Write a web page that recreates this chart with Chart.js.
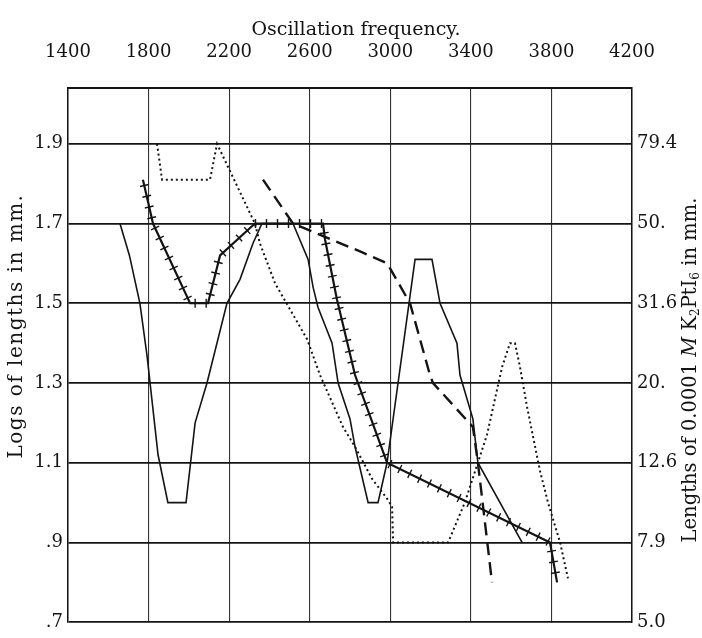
<!DOCTYPE html>
<html>
<head>
<meta charset="utf-8">
<script src="https://cdn.jsdelivr.net/npm/chart.js@4.4.1/dist/chart.umd.min.js"></script>
<style>
    html, body { margin: 0; padding: 0; background: #fff; }
    #wrap { width: 702px; height: 638px; }
</style>
</head>
<body>
<div id="wrap"><canvas id="chart" width="702" height="638"></canvas></div>
<script>
// === AXES ===
const FREQ_TICKS = [1400, 1800, 2200, 2600, 3000, 3400, 3800, 4200];
const LOG_TICKS = [0.7, 0.9, 1.1, 1.3, 1.5, 1.7, 1.9];
const LOG_LABELS = [".7", ".9", "1.1", "1.3", "1.5", "1.7", "1.9"];
const LENGTH_LABELS = ["5.0", "7.9", "12.6", "20.", "31.6", "50.", "79.4"];

// === SERIES ===
// thin solid curve
const solidFreq = [1658, 1705, 1757, 1792, 1847, 1896, 1986, 2031, 2090, 2189, 2254, 2318, 2363, 2517, 2592, 2617, 2641, 2711, 2741, 2800, 2825, 2890, 2939, 2984, 3123, 3207, 3247, 3331, 3346, 3410, 3435, 3654];
const solidLog  = [1.70, 1.62, 1.50, 1.37, 1.12, 1.00, 1.00, 1.20, 1.30, 1.50, 1.56, 1.65, 1.70, 1.70, 1.61, 1.54, 1.49, 1.40, 1.30, 1.21, 1.14, 1.00, 1.00, 1.10, 1.61, 1.61, 1.50, 1.40, 1.32, 1.21, 1.10, 0.90];

// solid curve with cross marks
const crossFreq = [1772, 1822, 2006, 2095, 2155, 2328, 2666, 2676, 2735, 2825, 2984, 3793, 3828];
const crossLog  = [1.81, 1.70, 1.50, 1.50, 1.62, 1.70, 1.70, 1.66, 1.51, 1.32, 1.10, 0.90, 0.80];

// long dashes
const dashFreq = [2368, 2517, 2850, 2985, 3098, 3197, 3212, 3410, 3435, 3505];
const dashLog  = [1.81, 1.70, 1.63, 1.60, 1.50, 1.32, 1.30, 1.19, 1.10, 0.80];

// dotted
const dotFreq = [1842, 1867, 2105, 2140, 2328, 2353, 2428, 2587, 2651, 2686, 2765, 2825, 2909, 2984, 3009, 3014, 3287, 3370, 3480, 3555, 3594, 3619, 3644, 3679, 3743, 3783, 3843, 3882];
const dotLog  = [1.90, 1.81, 1.81, 1.90, 1.70, 1.65, 1.55, 1.41, 1.32, 1.28, 1.19, 1.14, 1.06, 1.01, 0.99, 0.90, 0.90, 1.00, 1.17, 1.34, 1.40, 1.40, 1.34, 1.24, 1.08, 1.00, 0.90, 0.81];

const INK = "#141414";
const SERIF = "'DejaVu Serif', 'Liberation Serif', serif";

const toPoints = (xs, ys) => xs.map((x, i) => ({ x: x, y: ys[i] }));
const labelFor = (v, labels) => {
    const i = LOG_TICKS.findIndex((t) => Math.abs(t - v) < 1e-6);
    return i < 0 ? "" : labels[i];
};

// short cross strokes along the marked curve
const crossMarks = {
    id: "crossMarks",
    afterDatasetsDraw(chart) {
        const pts = chart.getDatasetMeta(1).data;
        const ctx = chart.ctx;
        const step = 11;
        let carry = 6;
        ctx.save();
        ctx.strokeStyle = INK;
        ctx.lineWidth = 1.4;
        for (let i = 1; i < pts.length; i++) {
            const a = pts[i - 1], b = pts[i];
            const dx = b.x - a.x, dy = b.y - a.y;
            const len = Math.hypot(dx, dy);
            if (len === 0) continue;
            const nx = -dy / len, ny = dx / len;
            let d = carry;
            while (d < len) {
                const px = a.x + dx * d / len, py = a.y + dy * d / len;
                ctx.beginPath();
                ctx.moveTo(px - nx * 4.5, py - ny * 4.5);
                ctx.lineTo(px + nx * 4.5, py + ny * 4.5);
                ctx.stroke();
                d += step;
            }
            carry = d - len;
        }
        ctx.restore();
    },
};

// axis titles (right one is rotated the other way and has subscripts)
const axisTitles = {
    id: "axisTitles",
    afterDraw(chart) {
        const ctx = chart.ctx;
        ctx.save();
        ctx.fillStyle = INK;
        ctx.textBaseline = "middle";

        ctx.font = `19px ${SERIF}`;
        ctx.textAlign = "center";
        ctx.fillText("Oscillation frequency.", 356, 30);

        ctx.save();
        ctx.translate(17, 326);
        ctx.rotate(-Math.PI / 2);
        ctx.font = `20px ${SERIF}`;
        ctx.letterSpacing = "1.5px";
        ctx.fillText("Logs of lengths in mm.", 0, 0);
        ctx.restore();

        // Lengths of 0.0001 M K2PtI6 in mm.
        const parts = [
            { t: "Lengths of 0.0001 ", f: `19.5px ${SERIF}`, dy: 0 },
            { t: "M", f: `italic 19.5px ${SERIF}`, dy: 0 },
            { t: " K", f: `19.5px ${SERIF}`, dy: 0 },
            { t: "2", f: `12px ${SERIF}`, dy: 5 },
            { t: "PtI", f: `19.5px ${SERIF}`, dy: 0 },
            { t: "6", f: `12px ${SERIF}`, dy: 5 },
            { t: " in mm.", f: `19.5px ${SERIF}`, dy: 0 },
        ];
        let total = 0;
        parts.forEach((p) => { ctx.font = p.f; p.w = ctx.measureText(p.t).width; total += p.w; });
        ctx.translate(691, 370);
        ctx.rotate(-Math.PI / 2);
        ctx.textAlign = "left";
        let x = -total / 2;
        parts.forEach((p) => { ctx.font = p.f; ctx.fillText(p.t, x, p.dy); x += p.w; });
        ctx.restore();
    },
};

const ctx = document.getElementById("chart").getContext("2d");

new Chart(ctx, {
    type: "line",
    data: {
        datasets: [
            { data: toPoints(solidFreq, solidLog), borderColor: INK, borderWidth: 1.6 },
            { data: toPoints(crossFreq, crossLog), borderColor: INK, borderWidth: 2.2 },
            { data: toPoints(dashFreq, dashLog), borderColor: INK, borderWidth: 2.4, borderDash: [13, 7] },
            { data: toPoints(dotFreq, dotLog), borderColor: INK, borderWidth: 2, borderDash: [2, 3] },
        ],
    },
    options: {
        responsive: false,
        animation: false,
        layout: { padding: { top: 0, bottom: 9, left: 0, right: 0 } },
        elements: {
            point: { radius: 0 },
            line: { tension: 0, fill: false, borderCapStyle: "butt", borderJoinStyle: "miter" },
        },
        plugins: { legend: { display: false }, tooltip: { enabled: false } },
        scales: {
            x: {
                type: "linear",
                position: "top",
                min: 1400,
                max: 4200,
                afterBuildTicks: (s) => { s.ticks = FREQ_TICKS.map((v) => ({ value: v })); },
                afterFit: (s) => { s.height = 88; },
                grid: { color: "#333", lineWidth: 1.1, drawTicks: false },
                border: { color: INK, width: 2 },
                ticks: {
                    color: INK,
                    font: { family: SERIF, size: 18 },
                    padding: 25,
                    maxRotation: 0,
                    autoSkip: false,
                    callback: (v) => String(v),
                },
            },
            y: {
                position: "left",
                min: 0.7,
                max: 2.04,
                afterBuildTicks: (s) => { s.ticks = LOG_TICKS.map((v) => ({ value: v })); },
                afterFit: (s) => { s.width = 68; },
                grid: { color: INK, lineWidth: 1.7, drawTicks: false },
                border: { color: INK, width: 1.5 },
                ticks: {
                    color: INK,
                    font: { family: SERIF, size: 18 },
                    padding: 5,
                    callback: (v) => labelFor(v, LOG_LABELS),
                },
            },
            y2: {
                position: "right",
                min: 0.7,
                max: 2.04,
                afterBuildTicks: (s) => { s.ticks = LOG_TICKS.map((v) => ({ value: v })); },
                afterFit: (s) => { s.width = 70; },
                grid: { drawOnChartArea: false, drawTicks: false },
                border: { color: INK, width: 1.5 },
                ticks: {
                    color: INK,
                    font: { family: SERIF, size: 18 },
                    padding: 5,
                    callback: (v) => labelFor(v, LENGTH_LABELS),
                },
            },
        },
    },
    plugins: [crossMarks, axisTitles],
});
</script>
</body>
</html>
